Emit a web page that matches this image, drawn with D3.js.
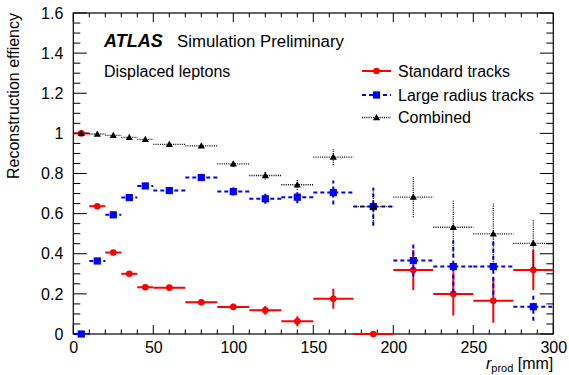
<!DOCTYPE html>
<html>
<head>
<meta charset="utf-8">
<script src="https://cdn.jsdelivr.net/npm/d3@7"></script>
<style>
  html, body { margin: 0; padding: 0; background: #fff; }
  svg { display: block; }
  text { font-family: "Liberation Sans", Arial, Helvetica, sans-serif; fill: #000; }
</style>
</head>
<body>
<svg id="chart" width="569" height="375"></svg>
<script>
// ---- data ----
const binLo = [0, 10, 20, 30, 40, 50, 70, 90, 110, 130, 150, 175, 200, 225, 250, 275];
const binHi = [10, 20, 30, 40, 50, 70, 90, 110, 130, 150, 175, 200, 225, 250, 275, 300];
const standard    = [1.0, 0.637, 0.406, 0.300, 0.233, 0.231, 0.158, 0.135, 0.118, 0.063, 0.176, 0.0, 0.319, 0.200, 0.166, 0.319];
const standardErr = [0.005, 0.008, 0.010, 0.010, 0.010, 0.008, 0.014, 0.016, 0.022, 0.025, 0.050, 0.0, 0.100, 0.108, 0.110, 0.100];
const largeR      = [0.0, 0.364, 0.594, 0.680, 0.738, 0.715, 0.780, 0.710, 0.674, 0.682, 0.705, 0.635, 0.366, 0.336, 0.336, 0.136];
const largeRErr   = [0.005, 0.010, 0.010, 0.012, 0.012, 0.010, 0.015, 0.020, 0.025, 0.030, 0.060, 0.094, 0.080, 0.130, 0.140, 0.070];
const combined    = [1.0, 0.997, 0.990, 0.980, 0.970, 0.945, 0.938, 0.848, 0.790, 0.744, 0.882, 0.635, 0.682, 0.532, 0.499, 0.452];
const combinedErr = [0.003, 0.004, 0.005, 0.006, 0.007, 0.006, 0.010, 0.015, 0.020, 0.025, 0.040, 0.094, 0.100, 0.136, 0.150, 0.120];
const xTicks = [0, 50, 100, 150, 200, 250, 300];
const yTicks = [0, 0.2, 0.4, 0.6, 0.8, 1.0, 1.2, 1.4, 1.6];
const seriesNames = ["Standard tracks", "Large radius tracks", "Combined"];

// ---- layout ----
const L = 73.3, R = 553.3, T = 13, B = 334;
const svg = d3.select("#chart");
const x = d3.scaleLinear().domain([0, 300]).range([L, R]);
const y = d3.scaleLinear().domain([0, 1.6]).range([B, T]);

// frame
svg.append("rect").attr("x", L).attr("y", T).attr("width", R - L).attr("height", B - T)
  .attr("fill", "none").attr("stroke", "#000").attr("stroke-width", 1.2);

// ticks
const xMinor = d3.range(0, 301, 10);
const yMinor = d3.range(0, 1.6001, 0.05);
const tickG = svg.append("g").attr("stroke", "#000").attr("stroke-width", 1);
xMinor.forEach(v => {
  const major = Math.abs(v % 50) < 1e-6;
  const len = major ? 9 : 4.5;
  tickG.append("line").attr("x1", x(v)).attr("x2", x(v)).attr("y1", B).attr("y2", B - len);
  tickG.append("line").attr("x1", x(v)).attr("x2", x(v)).attr("y1", T).attr("y2", T + len);
});
yMinor.forEach(v => {
  const major = Math.abs(Math.round(v * 100) % 20) < 1e-6;
  const len = major ? 13.5 : 7;
  tickG.append("line").attr("y1", y(v)).attr("y2", y(v)).attr("x1", L).attr("x2", L + len);
  tickG.append("line").attr("y1", y(v)).attr("y2", y(v)).attr("x1", R).attr("x2", R - len);
});

// tick labels via axes (tick lines hidden)
const xAxis = svg.append("g").attr("transform", `translate(0,${B})`)
  .call(d3.axisBottom(x).tickValues(xTicks).tickSize(0).tickPadding(0).tickFormat(d3.format("d")));
xAxis.select(".domain").remove();
xAxis.selectAll("text").attr("font-size", 16).attr("dy", null).attr("y", 19);

const yAxis = svg.append("g").attr("transform", `translate(${L},0)`)
  .call(d3.axisLeft(y).tickValues(yTicks).tickSize(0).tickPadding(10).tickFormat(d => d3.format("~g")(d)));
yAxis.select(".domain").remove();
yAxis.selectAll("text").attr("font-size", 16);

// axis titles
svg.append("text").attr("transform", `translate(18.5,${T}) rotate(-90)`)
  .attr("text-anchor", "end").attr("font-size", 16).text("Reconstruction effiency");
const xt = svg.append("text").attr("x", R).attr("y", 369).attr("text-anchor", "end").attr("font-size", 16);
xt.append("tspan").attr("font-style", "italic").text("r");
xt.append("tspan").attr("font-size", 11).attr("dy", 3).text("prod");
xt.append("tspan").attr("dy", -3).text(" [mm]");

// labels
svg.append("text").attr("x", 104).attr("y", 47).attr("font-size", 18)
  .attr("font-weight", "bold").attr("font-style", "italic").text("ATLAS");
svg.append("text").attr("x", 177).attr("y", 47).attr("font-size", 16.8).text("Simulation Preliminary");
svg.append("text").attr("x", 104).attr("y", 77).attr("font-size", 16).text("Displaced leptons");

// series definitions
const series = [
  { name: seriesNames[0], vals: standard, errs: standardErr, color: "#ff0000", width: 2, dash: null, marker: "circle" },
  { name: seriesNames[1], vals: largeR, errs: largeRErr, color: "#0000ff", width: 2, dash: "4,3", marker: "square" },
  { name: seriesNames[2], vals: combined, errs: combinedErr, color: "#000000", width: 1.3, dash: "1,1.2", marker: "triangle" }
];

function drawMarker(g, type, cx, cy, color) {
  if (type === "circle") {
    g.append("circle").attr("cx", cx).attr("cy", cy).attr("r", 3.3).attr("fill", color);
  } else if (type === "square") {
    g.append("rect").attr("x", cx - 3.6).attr("y", cy - 3.6).attr("width", 7.2).attr("height", 7.2).attr("fill", color);
  } else {
    const s = 3.6;
    g.append("path").attr("d", `M${cx},${cy - s} L${cx + s},${cy + s * 0.75} L${cx - s},${cy + s * 0.75} Z`).attr("fill", color);
  }
}

series.forEach(s => {
  const g = svg.append("g");
  s.vals.forEach((v, i) => {
    const cx = x((binLo[i] + binHi[i]) / 2), cy = y(v);
    const el1 = g.append("line").attr("x1", x(binLo[i])).attr("x2", x(binHi[i])).attr("y1", cy).attr("y2", cy)
      .attr("stroke", s.color).attr("stroke-width", s.width);
    if (s.dash) el1.attr("stroke-dasharray", s.dash);
    if (s.errs[i] > 0) {
      const el2 = g.append("line").attr("x1", cx).attr("x2", cx).attr("y1", y(v - s.errs[i])).attr("y2", y(v + s.errs[i]))
        .attr("stroke", s.color).attr("stroke-width", s.width);
      if (s.dash) el2.attr("stroke-dasharray", s.dash);
    }
    drawMarker(g, s.marker, cx, cy, s.color);
  });
});

// legend
const legY = [71, 95, 117.5];
series.forEach((s, i) => {
  const g = svg.append("g");
  const ly = legY[i];
  const l = g.append("line").attr("x1", 362).attr("x2", 391).attr("y1", ly).attr("y2", ly)
    .attr("stroke", s.color).attr("stroke-width", s.width);
  if (s.dash) l.attr("stroke-dasharray", s.dash);
  drawMarker(g, s.marker, 376.5, ly, s.color);
  g.append("text").attr("x", 398).attr("y", ly + 5.5).attr("font-size", 16).text(s.name);
});
</script>
</body>
</html>
